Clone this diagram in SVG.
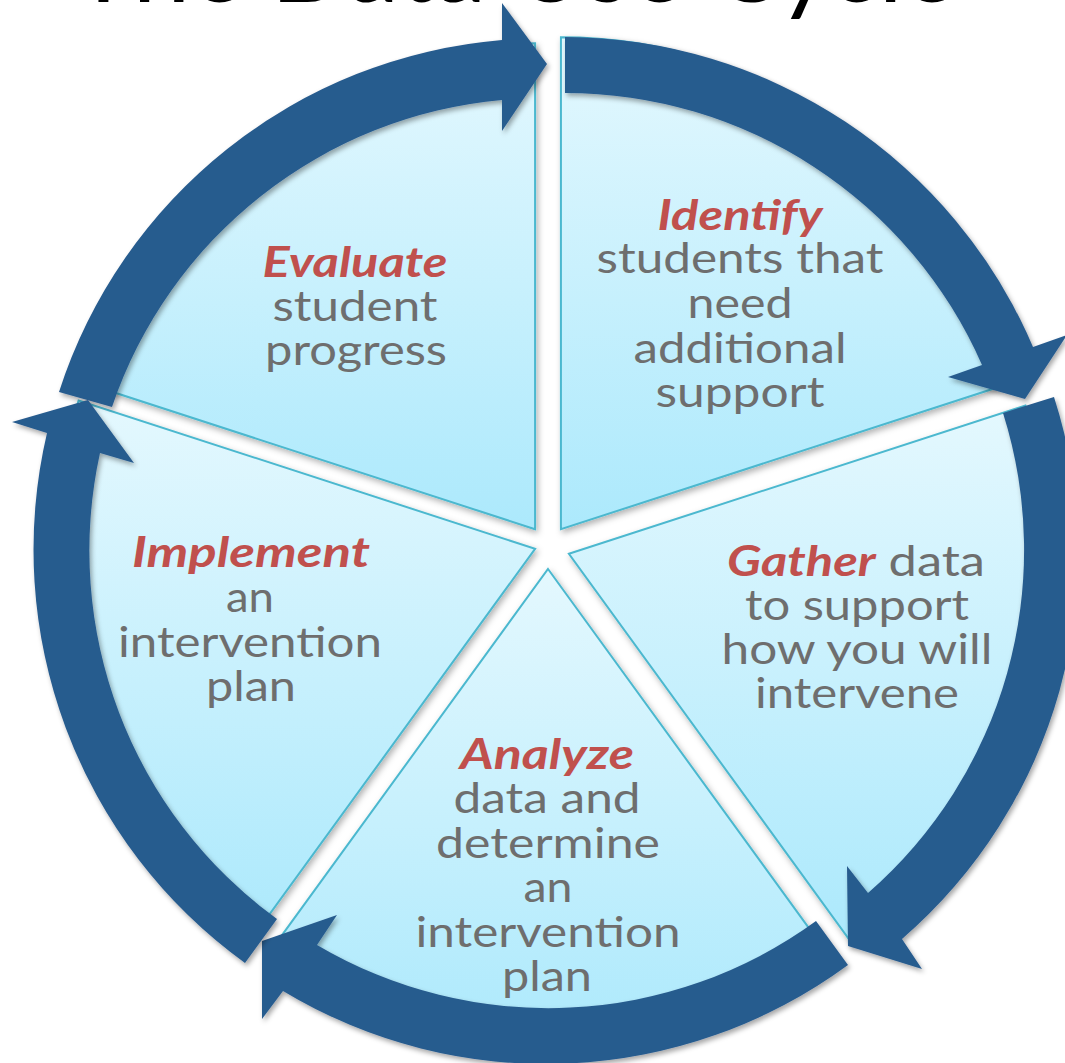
<svg xmlns="http://www.w3.org/2000/svg" width="1065" height="1063" viewBox="0 0 1065 1063">
<defs>
  <linearGradient id="wg" x1="0" y1="0" x2="0" y2="1">
    <stop offset="0" stop-color="#e4f8fe"/>
    <stop offset="1" stop-color="#acE9fc"/>
  </linearGradient>
  <filter id="sh" x="-10%" y="-10%" width="125%" height="125%">
    <feDropShadow dx="2" dy="3" stdDeviation="2.5" flood-color="#000" flood-opacity="0.35"/>
  </filter>
  <filter id="wsh" x="-10%" y="-10%" width="125%" height="125%">
    <feDropShadow dx="2" dy="3" stdDeviation="3" flood-color="#000" flood-opacity="0.3"/>
  </filter>
  <style>
    .wedge { fill: url(#wg); stroke: #4bb8cf; stroke-width: 2; filter: url(#wsh); }
    .arrow { fill: #285b8e; filter: url(#sh); }
    .t { font-family: Lato, "Liberation Sans", sans-serif; font-size: 42px; fill: #6e6e6e; text-anchor: middle; }
    .k { fill: #c0504d; font-weight: bold; font-style: italic; }
    .title { font-family: Lato, "Liberation Sans", sans-serif; font-size: 100px; fill: #000; }
  </style>
</defs>
<rect width="1065" height="1063" fill="#ffffff"/>
<text class="title" x="73" y="2" textLength="884" lengthAdjust="spacingAndGlyphs">The Data Use Cycle</text>

<g id="node-identify">
  <path class="wedge" d="M560.93,529.2 L560.93,37.2 A492,492 0 0 1 1028.85,377.16 Z"/>
  <text class="t k" x="740" y="230" textLength="165" lengthAdjust="spacingAndGlyphs">Identify</text>
  <text class="t" x="740" y="273" textLength="287" lengthAdjust="spacingAndGlyphs">students that</text>
  <text class="t" x="740" y="318" textLength="105" lengthAdjust="spacingAndGlyphs">need</text>
  <text class="t" x="740" y="363" textLength="213" lengthAdjust="spacingAndGlyphs">additional</text>
  <text class="t" x="740" y="407" textLength="169" lengthAdjust="spacingAndGlyphs">support</text>
</g>
<g id="node-gather">
  <path class="wedge" d="M568.92,553.8 L1025.43,405.47 A480,480 0 0 1 851.06,942.13 Z"/>
  <text class="t" x="856" y="576" textLength="258" lengthAdjust="spacingAndGlyphs"><tspan class="k">Gather</tspan> data</text>
  <text class="t" x="857" y="620" textLength="224" lengthAdjust="spacingAndGlyphs">to support</text>
  <text class="t" x="857" y="664" textLength="271" lengthAdjust="spacingAndGlyphs">how you will</text>
  <text class="t" x="857" y="708" textLength="204" lengthAdjust="spacingAndGlyphs">intervene</text>
</g>
<g id="node-analyze">
  <path class="wedge" d="M548,569 L830.14,957.33 A480,480 0 0 1 265.86,957.33 Z"/>
  <text class="t k" x="547" y="769" textLength="174" lengthAdjust="spacingAndGlyphs">Analyze</text>
  <text class="t" x="547" y="813" textLength="187" lengthAdjust="spacingAndGlyphs">data and</text>
  <text class="t" x="548" y="858" textLength="224" lengthAdjust="spacingAndGlyphs">determine</text>
  <text class="t" x="548" y="902" textLength="49" lengthAdjust="spacingAndGlyphs">an</text>
  <text class="t" x="548" y="947" textLength="265" lengthAdjust="spacingAndGlyphs">intervention</text>
  <text class="t" x="547" y="991" textLength="90" lengthAdjust="spacingAndGlyphs">plan</text>
</g>
<g id="node-implement">
  <path class="wedge" d="M535.08,548.8 L252.94,937.13 A480,480 0 0 1 78.57,400.47 Z"/>
  <text class="t k" x="251" y="567" textLength="238" lengthAdjust="spacingAndGlyphs">Implement</text>
  <text class="t" x="250" y="612" textLength="48" lengthAdjust="spacingAndGlyphs">an</text>
  <text class="t" x="250" y="657" textLength="264" lengthAdjust="spacingAndGlyphs">intervention</text>
  <text class="t" x="251" y="701" textLength="90" lengthAdjust="spacingAndGlyphs">plan</text>
</g>
<g id="node-evaluate">
  <path class="wedge" d="M535.07,529.2 L72.85,379.02 A486,486 0 0 1 535.07,43.2 Z"/>
  <text class="t k" x="355" y="277" textLength="185" lengthAdjust="spacingAndGlyphs">Evaluate</text>
  <text class="t" x="355" y="321" textLength="165" lengthAdjust="spacingAndGlyphs">student</text>
  <text class="t" x="356" y="365" textLength="182" lengthAdjust="spacingAndGlyphs">progress</text>
</g>

<g id="connectors">
  <path class="arrow" d="M59,392 A510,510 0 0 1 502,40 L502,3 L547,64 L502,131 L502,100 A455,455 0 0 0 112,407 Z"/>
  <path class="arrow" d="M565,37 A510,510 0 0 1 1033,347 L1067,335 L1025,399 L948,377 L982,365 A455,455 0 0 0 565,93 Z"/>
  <path class="arrow" d="M1054,397 A510,510 0 0 1 902,939 L922,969 L848,946 L847,866 L868,893 A455,455 0 0 0 1003,413 Z"/>
  <path class="arrow" d="M848,965 A510,510 0 0 1 283,991 L262,1019 L262,941 L337,915 L317,945 A455,455 0 0 0 816,921 Z"/>
  <path class="arrow" d="M245,963 A510,510 0 0 1 47,433 L12,422 L88,400 L134,463 L100,453 A455,455 0 0 0 277,919 Z"/>
</g>
</svg>
